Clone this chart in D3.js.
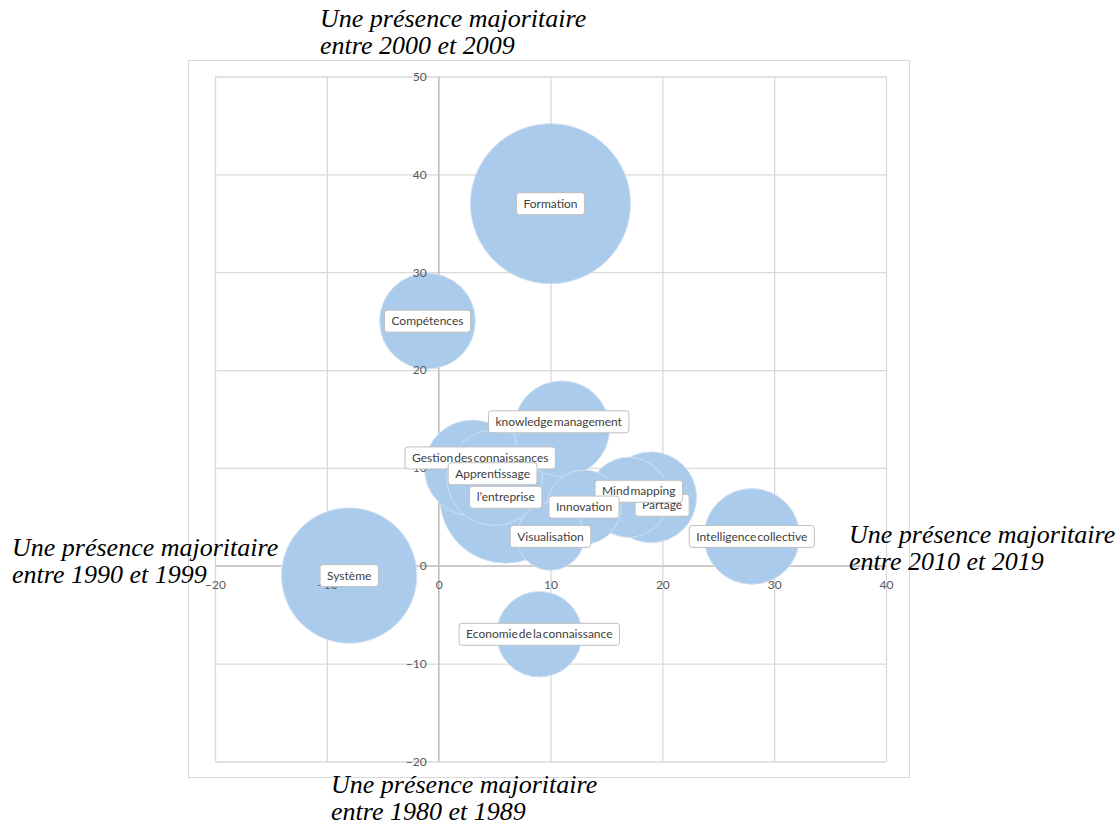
<!DOCTYPE html>
<html>
<head>
<meta charset="utf-8">
<script src="https://cdn.jsdelivr.net/npm/d3@7"></script>
<style>
  body { margin: 0; background: #fff; }
  svg { display: block; }
</style>
</head>
<body>
<script>
// bubble data, in draw order (later ones sit on top)
const names = ["Système", "Formation", "Compétences", "Economie de la connaissance",
  "l\u2019entreprise", "Partage", "Mind mapping", "Gestion des connaissances",
  "Apprentissage", "knowledge management", "Innovation", "Visualisation",
  "Intelligence collective"];
const xValues = [-8, 10, -1, 9, 6, 19, 17, 3, 5, 11, 13, 10, 28];
const yValues = [-1, 37, 25, -7, 7, 7, 7, 10, 9, 14, 6, 3, 3];
const sizes   = [20, 28, 10, 8, 19, 9, 7, 10, 10, 10, 6, 5, 10];

const xTicks = [-20, -10, 0, 10, 20, 30, 40];
const yTicks = [-20, -10, 0, 10, 20, 30, 40, 50];

// the four captions around the chart
const captions = [
  { lines: ["Une présence majoritaire", "entre 2000 et 2009"], x: 320, y: 27 },
  { lines: ["Une présence majoritaire", "entre 1990 et 1999"], x: 12, y: 556 },
  { lines: ["Une présence majoritaire", "entre 2010 et 2019"], x: 849, y: 543 },
  { lines: ["Une présence majoritaire", "entre 1980 et 1989"], x: 331, y: 793 }
];

// labels that were dragged off the bubble centre in the original
const labelNudge = {
  "Gestion des connaissances": [8, -10],
  "Apprentissage": [-2, -4],
  "knowledge management": [-3, -7],
  "Mind mapping": [10, -6],
  "Partage": [11, 8]
};

const W = 1119, H = 827;
const svg = d3.select("body").append("svg")
  .attr("width", W).attr("height", H);

// chart area border
svg.append("rect")
  .attr("x", 188.5).attr("y", 60.5)
  .attr("width", 721).attr("height", 717)
  .attr("fill", "#fff").attr("stroke", "#d9d9d9");

const x = d3.scaleLinear().domain([-20, 40]).range([215, 886]);
const y = d3.scaleLinear().domain([-20, 50]).range([761.5, 76.5]);
const r = d3.scaleSqrt().domain([0, d3.max(sizes)]).range([0, 80]);

// gridlines
const grid = svg.append("g");
grid.append("g")
  .attr("transform", "translate(0," + y(-20) + ")")
  .call(d3.axisBottom(x).tickValues(xTicks).tickSize(-(y(-20) - y(50))).tickFormat(""))
  .call(g => g.select(".domain").remove());
grid.append("g")
  .attr("transform", "translate(" + x(-20) + ",0)")
  .call(d3.axisLeft(y).tickValues(yTicks).tickSize(-(x(40) - x(-20))).tickFormat(""))
  .call(g => g.select(".domain").remove());
grid.selectAll("line").attr("stroke", "#d9d9d9").attr("stroke-width", 1.3);

// axis lines through zero
svg.append("line")
  .attr("x1", x(0)).attr("x2", x(0)).attr("y1", y(50)).attr("y2", y(-20))
  .attr("stroke", "#bfbfbf").attr("stroke-width", 1.3);
svg.append("line")
  .attr("x1", x(-20)).attr("x2", x(40)).attr("y1", y(0)).attr("y2", y(0))
  .attr("stroke", "#bfbfbf").attr("stroke-width", 1.3);

// bubbles
const data = names.map((n, i) => ({ name: n, x: xValues[i], y: yValues[i], size: sizes[i] }));

svg.append("g").selectAll("circle")
  .data(data)
  .enter().append("circle")
  .attr("cx", d => x(d.x))
  .attr("cy", d => y(d.y))
  .attr("r", d => r(d.size))
  .attr("fill", "#aacbec")
  .attr("stroke", "#cfe0f2")
  .attr("stroke-width", 1);

// tick labels, drawn over the bubbles
const xAxis = svg.append("g")
  .attr("transform", "translate(0," + y(0) + ")")
  .call(d3.axisBottom(x).tickValues(xTicks).tickSize(0).tickPadding(15));
const yAxis = svg.append("g")
  .attr("transform", "translate(" + x(0) + ",0)")
  .call(d3.axisLeft(y).tickValues(yTicks).tickSize(0).tickPadding(12));
[xAxis, yAxis].forEach(a => {
  a.select(".domain").remove();
  a.selectAll("text")
    .attr("fill", "#595959")
    .style("font-family", "Lato, 'Open Sans', sans-serif")
    .style("font-size", "12px");
});

// data labels
const labels = svg.append("g").selectAll("g")
  .data(data)
  .enter().append("g")
  .attr("transform", d => {
    const n = labelNudge[d.name] || [0, 0];
    return "translate(" + (x(d.x) + n[0]) + "," + (y(d.y) + n[1]) + ")";
  });

labels.append("rect");
labels.append("text")
  .attr("text-anchor", "middle")
  .attr("dy", "0.35em")
  .attr("fill", "#404040")
  .style("font-family", "Lato, 'Open Sans', sans-serif")
  .style("font-size", "12px")
  .style("word-spacing", "-2px")
  .text(d => d.name);

labels.each(function() {
  const g = d3.select(this);
  const w = g.select("text").node().getComputedTextLength() + 14;
  g.select("rect")
    .attr("x", -w / 2).attr("y", -11)
    .attr("width", w).attr("height", 22)
    .attr("rx", 3)
    .attr("fill", "#fff")
    .attr("stroke", "#bfbfbf");
});

// captions
captions.forEach(c => {
  const t = svg.append("text")
    .attr("x", c.x).attr("y", c.y)
    .attr("fill", "#000")
    .style("font-family", "'Liberation Serif', 'Times New Roman', serif")
    .style("font-style", "italic")
    .style("font-size", "26px");
  c.lines.forEach((l, i) => {
    t.append("tspan").attr("x", c.x).attr("dy", i === 0 ? 0 : 27).text(l);
  });
});
</script>
</body>
</html>
